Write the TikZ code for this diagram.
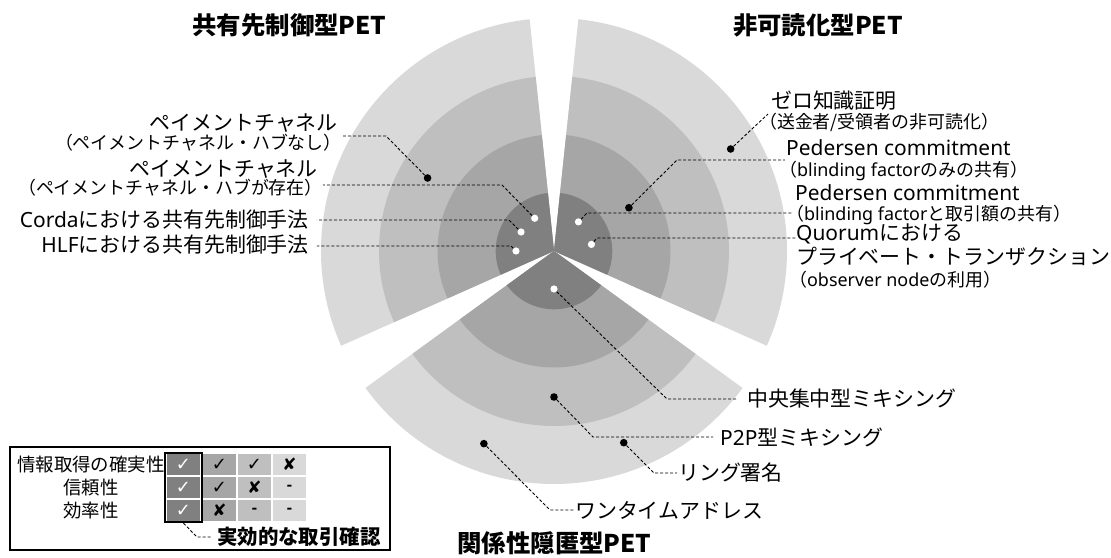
\documentclass[tikz,border=0pt]{standalone}
\usepackage{fontspec}
\setmainfont{Noto Sans CJK JP}
\newfontfamily\symfont{DejaVu Sans}
\newfontfamily\lat{Noto Sans}
\usetikzlibrary{calc}
\definecolor{g1}{HTML}{808080}
\definecolor{g2}{HTML}{A6A6A6}
\definecolor{g3}{HTML}{BFBFBF}
\definecolor{g4}{HTML}{D9D9D9}
\begin{document}
\begin{tikzpicture}[x=1bp,y=1bp,
  lbl/.style={inner sep=0pt, font=\fontsize{21}{21}\selectfont},
  sub/.style={inner sep=0pt, font=\fontsize{18}{18}\selectfont},
  ttl/.style={inner sep=0pt, anchor=base, font=\fontsize{24.5}{24.5}\selectfont\bfseries},
  leg/.style={inner sep=0pt, font=\fontsize{18.5}{18.5}\selectfont},
  bdot/.style={circle, fill=black, inner sep=0pt, minimum size=7.6bp},
  wdot/.style={circle, fill=white, inner sep=0pt, minimum size=7.2bp},
  lead/.style={draw=black, line width=0.9bp, dash pattern=on 3bp off 2bp},
  cell/.style={draw=white, line width=1.2bp, minimum width=35bp, minimum height=23bp, inner sep=0pt},
  ck/.style={font=\symfont\fontsize{18}{18}\selectfont},
  cx/.style={font=\symfont\fontsize{17}{17}\selectfont},
  cd/.style={font=\bfseries\fontsize{15}{15}\selectfont}]
\useasboundingbox (-554,-307) rectangle (557,251);

% sectors
\foreach \a in {96,216,336}{
  \foreach \r/\c in {233/g4,175/g3,116.5/g2,58.3/g1}{
    \fill[\c] (0,0) -- (\a:\r bp) arc[start angle=\a, end angle=\a+108, radius=\r bp] -- cycle;
  }
}

% titles
\node[ttl] (t1) at (-264.5,216) {共有先制御型PET};
\node[ttl] (t2) at (264,216) {非可読化型PET};
\node[ttl] (t3) at (0.5,-302) {関係性隠匿型PET};

% dots
\node[bdot] (d1) at (150:146bp) {};
\node[wdot] (d2) at (120.5:38bp) {};
\node[wdot] (d3) at (150:38bp) {};
\node[wdot] (d4) at (180:38bp) {};
\node[bdot] (d5) at (30:204bp) {};
\node[bdot] (d6) at (30:86.5bp) {};
\node[wdot] (d7) at (50:38bp) {};
\node[wdot] (d8) at (10:38bp) {};
\node[wdot] (d9) at (270:38bp) {};
\node[bdot] (d10) at (270:146bp) {};
\node[bdot] (d11) at (290:204bp) {};
\node[bdot] (d12) at (250:205bp) {};

% left labels
\node[lbl, anchor=east] (l1a) at (-216,128) {ペイメントチャネル};
\node[sub, anchor=east] (l1b) at (-212,108) {（ペイメントチャネル・ハブなし）};
\node[lbl, anchor=east] (l2a) at (-236,82) {ペイメントチャネル};
\node[sub, anchor=east] (l2b) at (-231,63) {（ペイメントチャネル・ハブが存在）};
\node[lbl, anchor=east] (l3) at (-245,31) {{\lat Corda}における共有先制御手法};
\node[lbl, anchor=east] (l4) at (-245,6) {{\lat HLF}における共有先制御手法};

% right labels
\node[lbl, anchor=west] (r1a) at (217,150) {ゼロ知識証明};
\node[sub, anchor=west] (r1b) at (205,129) {（送金者/受領者の非可読化）};
\node[lbl, anchor=west] (r2a) at (232,103) {\lat Pedersen commitment};
\node[sub, anchor=west] (r2b) at (225,80) {（{\lat blinding factor}のみの共有）};
\node[lbl, anchor=west] (r3a) at (241,58) {\lat Pedersen commitment};
\node[sub, anchor=west] (r3b) at (232,36) {（{\lat blinding factor}と取引額の共有）};
\node[lbl, anchor=west] (r4a) at (242,17) {{\lat Quorum}における};
\node[lbl, anchor=west] (r4b) at (242,-5) {プライベート・トランザクション};
\node[sub, anchor=west] (r4c) at (235,-29) {（{\lat observer node}の利用）};

% bottom labels
\node[lbl, anchor=west] (b1) at (193,-148) {中央集中型ミキシング};
\node[lbl, anchor=west] (b2) at (166,-186) {{\lat P2P}型ミキシング};
\node[lbl, anchor=west] (b3) at (124,-222) {リング署名};
\node[lbl, anchor=west] (b4) at (21,-259) {ワンタイムアドレス};

% leader lines
\coordinate (k1) at (-168,115); \coordinate (e1) at (-212,115);
\coordinate (k2) at (-52,66);   \coordinate (e2) at (-231,66);
\coordinate (k3) at (-45,31);   \coordinate (e3) at (-237,31);
\coordinate (k4) at (-43,5);    \coordinate (e4) at (-237,5);
\coordinate (k5) at (214,137);
\coordinate (k6) at (123,91);   \coordinate (e6) at (231,91);
\coordinate (k7) at (33,38);    \coordinate (e7) at (239,38);
\coordinate (k8) at (43,13);    \coordinate (e8) at (243,13);
\coordinate (k9) at (113,-148); \coordinate (e9) at (183,-148);
\coordinate (k10) at (39,-186); \coordinate (e10) at (159,-186);
\coordinate (k11) at (100,-222);\coordinate (e11) at (123,-222);
\coordinate (k12) at (-4,-259); \coordinate (e12) at (21,-259);
\draw[lead] (d1) -- (k1) -- (e1);
\draw[lead] (d2) -- (k2) -- (e2);
\draw[lead] (d3) -- (k3) -- (e3);
\draw[lead] (d4) -- (k4) -- (e4);
\draw[lead] (d5) -- (k5);
\draw[lead] (d6) -- (k6) -- (e6);
\draw[lead] (d7) -- (k7) -- (e7);
\draw[lead] (d8) -- (k8) -- (e8);
\draw[lead] (d9) -- (k9) -- (e9);
\draw[lead] (d10) -- (k10) -- (e10);
\draw[lead] (d11) -- (k11) -- (e11);
\draw[lead] (d12) -- (k12) -- (e12);

% legend
\node[draw=black, line width=1.5bp, minimum width=380bp, minimum height=103bp, inner sep=0pt] (legend) at (-354,-247.5) {};
\node[leg] (q1) at (-463,-214) {情報取得の確実性};
\node[leg] (q2) at (-463,-237) {信頼性};
\node[leg] (q3) at (-463,-260) {効率性};

\node[cell, fill=g1, text=white, ck] (c11) at (-370.5,-213.5) {✓};
\node[cell, fill=g2, ck] (c12) at (-334.5,-213.5) {✓};
\node[cell, fill=g3, ck] (c13) at (-299.5,-213.5) {✓};
\node[cell, fill=g4, cx] (c14) at (-264.5,-213.5) {✘};
\node[cell, fill=g1, text=white, ck] (c21) at (-370.5,-236.5) {✓};
\node[cell, fill=g2, ck] (c22) at (-334.5,-236.5) {✓};
\node[cell, fill=g3, cx] (c23) at (-299.5,-236.5) {✘};
\node[cell, fill=g4, cd] (c24) at (-264.5,-236.5) {-};
\node[cell, fill=g1, text=white, ck] (c31) at (-370.5,-259.5) {✓};
\node[cell, fill=g2, cx] (c32) at (-334.5,-259.5) {✘};
\node[cell, fill=g3, cd] (c33) at (-299.5,-259.5) {-};
\node[cell, fill=g4, cd] (c34) at (-264.5,-259.5) {-};

\node[draw=black, line width=2.5bp, minimum width=37bp, minimum height=69bp, inner sep=0pt] (eff) at (-370.5,-236.5) {};
\node[inner sep=0pt, anchor=west, font=\bfseries\fontsize{20.5}{20.5}\selectfont] (efft) at (-337,-286) {実効的な取引確認};
\coordinate (ek) at (-357,-286);
\coordinate (ee) at (-342,-286);
\draw[lead] (eff.south) -- (ek) -- (ee);
\end{tikzpicture}
\end{document}
